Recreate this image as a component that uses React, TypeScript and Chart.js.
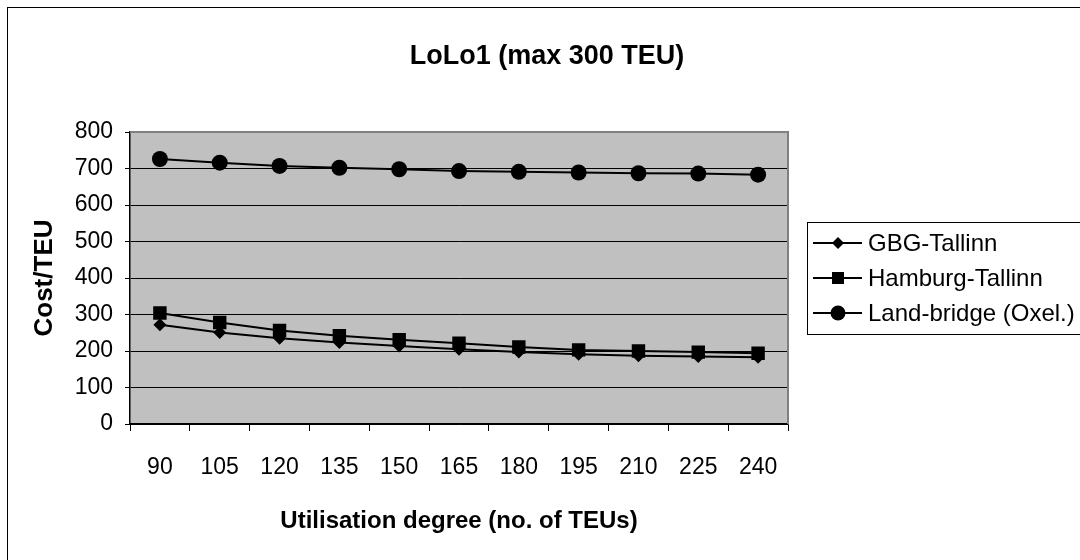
import React, { useEffect, useRef } from "react";
import { Chart, registerables } from "chart.js";

Chart.register(...registerables);

const categories = ["90", "105", "120", "135", "150", "165", "180", "195", "210", "225", "240"];
const gbgTallinn = [272, 251, 235, 223, 214, 205, 197, 191, 187, 185, 183];
const hamburgTallinn = [304, 278, 256, 242, 231, 221, 211, 203, 200, 197, 194];
const landBridge = [726, 716, 707, 702, 698, 693, 691, 689, 687, 686, 683];
const seriesNames = ["GBG-Tallinn", "Hamburg-Tallinn", "Land-bridge (Oxel.)"];
const yMin = 0;
const yMax = 800;
const yStep = 100;

const titleText = "LoLo1 (max 300 TEU)";
const xTitle = "Utilisation degree (no. of TEUs)";
const yTitle = "Cost/TEU";
const FONT = "'Liberation Sans', Arial, sans-serif";

function drawMarker(ctx: CanvasRenderingContext2D, style: string, x: number, y: number, r: number) {
  ctx.beginPath();
  if (style === "rectRot") {
    ctx.moveTo(x - r, y);
    ctx.lineTo(x, y - r);
    ctx.lineTo(x + r, y);
    ctx.lineTo(x, y + r);
    ctx.closePath();
  } else if (style === "rect") {
    const s = Math.SQRT1_2 * r;
    ctx.rect(x - s, y - s, 2 * s, 2 * s);
  } else {
    ctx.arc(x, y, r, 0, Math.PI * 2);
  }
  ctx.fill();
}

const decorPlugin = {
  id: "decor",
  beforeDraw(chart: any) {
    const { ctx, chartArea: a } = chart;
    ctx.save();
    ctx.fillStyle = "#ffffff";
    ctx.fillRect(0, 0, chart.width, chart.height);
    ctx.fillStyle = "#c0c0c0";
    ctx.fillRect(a.left, a.top, a.right - a.left, a.bottom - a.top);
    ctx.restore();
  },
  beforeDatasetsDraw(chart: any) {
    const { ctx, chartArea: a } = chart;
    ctx.save();
    ctx.strokeStyle = "#808080";
    ctx.lineWidth = 2;
    ctx.beginPath();
    ctx.moveTo(a.left, a.top);
    ctx.lineTo(a.right, a.top);
    ctx.lineTo(a.right, a.bottom);
    ctx.stroke();
    ctx.restore();
  },
  afterDraw(chart: any) {
    const { ctx, chartArea: a } = chart;
    ctx.save();
    ctx.strokeStyle = "#000";
    ctx.lineWidth = 1;
    ctx.strokeRect(7.5, 7.5, 1200, 700);
    ctx.fillStyle = "#000";
    ctx.textAlign = "center";
    ctx.textBaseline = "middle";
    ctx.font = `bold 27px ${FONT}`;
    ctx.fillText(titleText, 547, 57);
    ctx.font = `bold 24px ${FONT}`;
    ctx.fillText(xTitle, (a.left + a.right) / 2, 521);
    ctx.save();
    ctx.translate(45, (a.top + a.bottom) / 2);
    ctx.rotate(-Math.PI / 2);
    ctx.font = `bold 26px ${FONT}`;
    ctx.fillText(yTitle, 0, 0);
    ctx.restore();
    ctx.strokeStyle = "#000";
    ctx.lineWidth = 1;
    ctx.strokeRect(807.5, 222.5, 400, 112);
    const rows = [243, 278, 313];
    ctx.font = `24px ${FONT}`;
    ctx.textAlign = "left";
    chart.data.datasets.forEach((ds: any, i: number) => {
      const y = rows[i];
      ctx.strokeStyle = "#000";
      ctx.lineWidth = 2;
      ctx.beginPath();
      ctx.moveTo(813, y);
      ctx.lineTo(862, y);
      ctx.stroke();
      ctx.fillStyle = "#000";
      drawMarker(ctx, ds.pointStyle, 838, y, ds.legendRadius);
      ctx.fillText(ds.label, 868, y + 1);
    });
    ctx.restore();
  },
};

export default function App() {
  const ref = useRef<HTMLCanvasElement | null>(null);
  useEffect(() => {
    if (!ref.current) return;
    const mk = (label: string, data: number[], style: string, r: number, lr: number) => ({
      label,
      data,
      borderColor: "#000",
      backgroundColor: "#000",
      borderWidth: 2,
      pointStyle: style,
      pointRadius: r,
      pointBorderWidth: 0,
      pointBackgroundColor: "#000",
      legendRadius: lr,
      tension: 0,
    });
    const chart = new Chart(ref.current, {
      type: "line",
      data: {
        labels: categories,
        datasets: [
          mk(seriesNames[0], gbgTallinn, "rectRot", 6.5, 6),
          mk(seriesNames[1], hamburgTallinn, "rect", 9.5, 8.5),
          mk(seriesNames[2], landBridge, "circle", 8, 7.5),
        ] as any,
      },
      options: {
        responsive: false,
        animation: false,
        layout: { padding: { left: 0, top: 132, right: 292, bottom: 0 } },
        plugins: {
          legend: { display: false },
          title: { display: false },
          tooltip: { enabled: false },
        },
        scales: {
          x: {
            type: "category",
            offset: true,
            grid: {
              offset: true,
              drawOnChartArea: false,
              drawTicks: true,
              tickLength: 7,
              color: "#000",
              lineWidth: 1,
            },
            border: { display: true, color: "#000", width: 1.5 },
            ticks: {
              color: "#000",
              font: { family: FONT, size: 23 },
              padding: 23,
              maxRotation: 0,
              autoSkip: false,
            },
            afterFit: (s: any) => {
              s.height = 136;
            },
          },
          y: {
            min: yMin,
            max: yMax,
            grid: {
              color: "#000",
              lineWidth: 1,
              tickLength: 5,
              drawTicks: true,
            },
            border: { display: true, color: "#000", width: 1.5 },
            ticks: {
              stepSize: yStep,
              color: "#000",
              font: { family: FONT, size: 23 },
              padding: 12,
            },
            afterFit: (s: any) => {
              s.width = 130;
            },
          },
        },
      } as any,
      plugins: [decorPlugin],
    });
    return () => chart.destroy();
  }, []);
  return (
    <div style={{ position: "absolute", left: 0, top: 0, width: 1080, height: 560 }}>
      <canvas ref={ref} width={1080} height={560} style={{ display: "block", width: 1080, height: 560 }} />
    </div>
  );
}
